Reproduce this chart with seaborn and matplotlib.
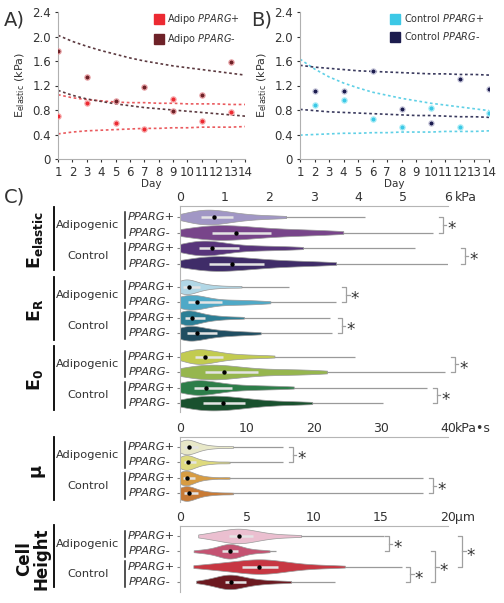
import numpy as np
import pandas as pd
import matplotlib
matplotlib.use("Agg")
import matplotlib.pyplot as plt
import matplotlib.transforms as mtransforms
from matplotlib.lines import Line2D
import seaborn as sns

# ---------------- panel A / B data (E_elastic vs day) ----------------
days_a = [1, 3, 5, 7, 9, 11, 13]
adipo_pos = [0.70, 0.92, 0.58, 0.49, 0.98, 0.62, 0.76]
adipo_neg = [1.76, 1.34, 0.94, 1.18, 0.79, 1.05, 1.58]

days_b = [2, 4, 6, 8, 10, 12, 14]
ctrl_pos = [0.88, 0.97, 0.66, 0.53, 0.83, 0.53, 0.75]
ctrl_neg = [1.11, 1.11, 1.43, 0.82, 0.58, 1.31, 1.14]

fit_days = list(range(1, 15))
adipo_pos_hi = [1.05, 1.00, 0.97, 0.95, 0.93, 0.92, 0.92, 0.91, 0.91, 0.90, 0.90, 0.90, 0.89, 0.89]
adipo_pos_lo = [0.41, 0.44, 0.46, 0.47, 0.48, 0.49, 0.50, 0.50, 0.51, 0.51, 0.52, 0.52, 0.52, 0.53]
adipo_neg_hi = [2.02, 1.92, 1.84, 1.77, 1.71, 1.65, 1.60, 1.56, 1.52, 1.49, 1.46, 1.43, 1.40, 1.37]
adipo_neg_lo = [1.12, 1.04, 0.98, 0.94, 0.90, 0.87, 0.84, 0.82, 0.80, 0.78, 0.76, 0.74, 0.72, 0.70]
ctrl_pos_hi = [1.63, 1.47, 1.34, 1.24, 1.16, 1.09, 1.04, 0.99, 0.95, 0.91, 0.88, 0.85, 0.82, 0.79]
ctrl_pos_lo = [0.39, 0.40, 0.41, 0.42, 0.42, 0.43, 0.43, 0.44, 0.44, 0.44, 0.45, 0.45, 0.45, 0.46]
ctrl_neg_hi = [1.53, 1.50, 1.48, 1.46, 1.44, 1.43, 1.42, 1.41, 1.40, 1.39, 1.39, 1.38, 1.38, 1.37]
ctrl_neg_lo = [0.81, 0.79, 0.77, 0.76, 0.75, 0.74, 0.73, 0.72, 0.71, 0.71, 0.70, 0.69, 0.69, 0.68]

# ---------------- panel C data (representative samples per violin) ----------------
# order in every measure: Adipogenic PPARG+, Adipogenic PPARG-, Control PPARG+, Control PPARG-
e_elastic = [
    [0.1, 0.22, 0.34, 0.44, 0.52, 0.6, 0.68, 0.77, 0.86, 0.96, 1.1, 1.26, 1.48, 1.8, 2.25],
    [0.15, 0.35, 0.52, 0.66, 0.78, 0.94, 1.1, 1.25, 1.42, 1.62, 1.88, 2.2, 2.55, 2.95, 3.45],
    [0.1, 0.2, 0.3, 0.38, 0.46, 0.55, 0.63, 0.71, 0.8, 0.94, 1.16, 1.48, 1.78, 2.15, 2.6],
    [0.14, 0.32, 0.48, 0.6, 0.7, 0.86, 1.02, 1.16, 1.32, 1.5, 1.74, 2.02, 2.35, 2.8, 3.3],
]
e_elastic_max = [4.14, 5.67, 5.26, 6.15]

e_r = [
    [0.02, 0.04, 0.05, 0.06, 0.08, 0.12, 0.16, 0.2, 0.25, 0.32, 0.4, 0.5, 0.65, 0.9, 1.3],
    [0.03, 0.07, 0.11, 0.16, 0.2, 0.26, 0.31, 0.37, 0.45, 0.58, 0.8, 1.08, 1.3, 1.55, 1.9],
    [0.02, 0.05, 0.08, 0.1, 0.12, 0.17, 0.22, 0.27, 0.33, 0.41, 0.5, 0.62, 0.78, 1.0, 1.35],
    [0.03, 0.06, 0.1, 0.14, 0.17, 0.24, 0.31, 0.39, 0.47, 0.58, 0.74, 0.9, 1.1, 1.35, 1.7],
]
e_r_max = [2.44, 3.5, 3.36, 3.4]

e_0 = [
    [0.1, 0.18, 0.26, 0.32, 0.36, 0.42, 0.49, 0.56, 0.64, 0.74, 0.88, 1.06, 1.3, 1.6, 2.0],
    [0.12, 0.26, 0.4, 0.52, 0.6, 0.72, 0.85, 0.98, 1.12, 1.3, 1.55, 1.95, 2.3, 2.7, 3.1],
    [0.08, 0.15, 0.22, 0.28, 0.33, 0.41, 0.49, 0.58, 0.68, 0.82, 1.02, 1.3, 1.6, 1.95, 2.4],
    [0.12, 0.25, 0.38, 0.48, 0.56, 0.7, 0.84, 0.97, 1.08, 1.2, 1.36, 1.56, 1.85, 2.25, 2.8],
]
e_0_max = [3.92, 5.93, 5.53, 4.55]

mu = [
    [0.1, 0.25, 0.4, 0.55, 0.7, 0.95, 1.15, 1.4, 1.7, 2.0, 2.4, 2.9, 3.8, 5.2, 7.5],
    [0.1, 0.2, 0.35, 0.5, 0.62, 0.85, 1.05, 1.25, 1.5, 1.8, 2.2, 2.7, 3.5, 4.8, 7.0],
    [0.08, 0.18, 0.3, 0.42, 0.55, 0.72, 0.9, 1.1, 1.35, 1.65, 2.0, 2.5, 3.3, 4.6, 7.0],
    [0.1, 0.22, 0.36, 0.5, 0.65, 0.85, 1.05, 1.3, 1.6, 1.95, 2.4, 3.0, 3.9, 5.3, 7.5],
]
mu_max = [15.4, 15.4, 36.3, 36.3]

cell_height = [
    [1.9, 2.5, 3.0, 3.5, 3.8, 4.0, 4.2, 4.4, 4.7, 5.0, 5.3, 5.6, 6.2, 7.0, 8.5],
    [1.4, 2.2, 2.7, 3.0, 3.3, 3.45, 3.6, 3.7, 3.85, 4.0, 4.2, 4.4, 4.8, 5.4, 6.3],
    [1.8, 2.8, 3.6, 4.3, 4.9, 5.3, 5.6, 5.9, 6.3, 6.8, 7.1, 7.5, 8.4, 9.6, 11.5],
    [1.7, 2.4, 2.9, 3.2, 3.5, 3.6, 3.7, 3.8, 4.0, 4.3, 4.7, 5.1, 5.7, 6.5, 7.8],
]
cell_height_max = [15.2, 7.2, 16.6, 11.6]

groups = ["Adipogenic", "Control"]
pparg = ["PPARG+", "PPARG-"]

pal_elastic = ["#9d8fcd", "#7d3a95", "#582a86", "#3b2272"]
pal_r = ["#a8dbef", "#3bb3db", "#1b88a6", "#15526d"]
pal_0 = ["#d3df3c", "#9dc73d", "#208a45", "#105a2b"]
pal_mu = ["#eeedc2", "#eee86e", "#f0a12a", "#e0791d"]
pal_h = ["#f3b7cf", "#d7406a", "#df1f2d", "#7a0b15"]

GREY = "#9a9a9a"
TXT = "#333333"

fig = plt.figure(figsize=(5.04, 6.03), dpi=100)
W, H = 504.0, 603.0


def fx(px):
    return px / W


# ---------------- panels A and B ----------------
def scatter_panel(ax, days, pos, neg, hi_lo, colors, halos, labels):
    (p_hi, p_lo, n_hi, n_lo) = hi_lo
    for ys, c in [(p_hi, colors[2]), (p_lo, colors[2]), (n_hi, colors[3]), (n_lo, colors[3])]:
        sns.lineplot(x=fit_days, y=ys, ax=ax, color=c, lw=1.2, linestyle=(0, (1.6, 1.6)))
    sns.scatterplot(x=days, y=pos, ax=ax, color=colors[0], s=14, edgecolor=halos[0], linewidth=0.9, zorder=3)
    sns.scatterplot(x=days, y=neg, ax=ax, color=colors[1], s=14, edgecolor=halos[1], linewidth=0.9, zorder=3)
    ax.set_xlim(1, 14)
    ax.set_ylim(0, 2.4)
    ax.set_xticks(range(1, 15))
    ax.set_yticks([0, 0.4, 0.8, 1.2, 1.6, 2.0, 2.4])
    ax.set_yticklabels(["0", "0.4", "0.8", "1.2", "1.6", "2.0", "2.4"])
    ax.tick_params(labelsize=8.5, colors=TXT, length=2, pad=3)
    for s in ["top", "right"]:
        ax.spines[s].set_visible(False)
    for s in ["left", "bottom"]:
        ax.spines[s].set_color("#b0b0b0")
    ax.set_xlabel("Day", fontsize=7.5, color=TXT, labelpad=0)
    ax.set_ylabel(r"E$_{\mathregular{elastic}}$ (kPa)", fontsize=8, color=TXT, labelpad=4)
    handles = [Line2D([], [], marker="s", ls="", color=colors[0], markersize=7),
               Line2D([], [], marker="s", ls="", color=colors[1], markersize=7)]
    ax.legend(handles, labels, loc="upper right", bbox_to_anchor=(1.02, 1.06), frameon=False,
              fontsize=7.0, handlelength=0.8, handletextpad=0.5, labelspacing=0.65,
              labelcolor=TXT)


axA = fig.add_axes([fx(58), 1 - 159 / H, 187 / W, 147 / H])
scatter_panel(axA, days_a, adipo_pos, adipo_neg,
              (adipo_pos_hi, adipo_pos_lo, adipo_neg_hi, adipo_neg_lo),
              ["#ec2a32", "#6e2228", "#ea5a5e", "#5c3a40"], ["#f7a8aa", "#e8a0a4"],
              [r"Adipo $\it{PPARG}$+", r"Adipo $\it{PPARG}$-"])

axB = fig.add_axes([fx(300), 1 - 159 / H, 189 / W, 147 / H])
scatter_panel(axB, days_b, ctrl_pos, ctrl_neg,
              (ctrl_pos_hi, ctrl_pos_lo, ctrl_neg_hi, ctrl_neg_lo),
              ["#3cc8e6", "#1c1c4e", "#5fd0e6", "#3a3a5e"], ["#a8ecf6", "#c8c8dc"],
              [r"Control $\it{PPARG}$+", r"Control $\it{PPARG}$-"])

fig.text(fx(4), 1 - 20 / H, "A)", fontsize=14, color=TXT, va="center")
fig.text(fx(251), 1 - 20 / H, "B)", fontsize=14, color=TXT, va="center")
fig.text(fx(4), 1 - 197 / H, "C)", fontsize=14, color=TXT, va="center")


# ---------------- panel C ----------------
def violin_block(ax, sets, maxes, palettes, starts, xmax, cut=0.4, from_min=False):
    rows, rec = [], []
    for block, (samples, mx, pal, r0) in enumerate(zip(sets, maxes, palettes, starts)):
        for i, vals in enumerate(samples):
            r = r0 + i
            key = f"{block}-{i}"
            rows.append((r, vals, mx[i], pal[i], key))
            for v in vals:
                rec.append({"row": r, "value": v, "key": key})
    df = pd.DataFrame(rec)
    palette = {k: c for (_, _, _, c, k) in rows}
    for (r, vals, mx, c, k) in rows:
        x0 = min(vals) if from_min else 0
        ax.hlines(r, x0, mx, color=GREY, lw=0.9, zorder=0.5)
    sns.violinplot(data=df, x="value", y="row", hue="key", palette=palette, orient="h",
                   native_scale=True, dodge=False, density_norm="width", cut=cut,
                   inner=None, linewidth=0.5, linecolor="#9a9a9a", width=0.95,
                   legend=False, ax=ax, bw_adjust=0.9)
    for (r, vals, mx, c, k) in rows:
        q1, med, q3 = np.percentile(vals, [25, 50, 75])
        ax.hlines(r, q1, q3, color="#e4e4e4", lw=1.8, zorder=3)
        ax.scatter([med], [r], s=10, color="black", zorder=4, linewidths=0)
    ax.set_xlim(0, xmax)


def style_c(ax, ticks, unit, ylim, yticks):
    ax.set_ylim(*ylim)
    ax.xaxis.tick_top()
    ax.set_xticks(ticks)
    ax.set_xticklabels([str(t) for t in ticks])
    ax.set_yticks(yticks)
    ax.tick_params(axis="x", labelsize=9, colors=TXT, length=0, pad=1.5)
    ax.tick_params(axis="y", length=2, color="#888888", labelleft=False)
    ax.set_xlabel("")
    ax.set_ylabel("")
    for s in ["right", "bottom"]:
        ax.spines[s].set_visible(False)
    for s in ["left", "top"]:
        ax.spines[s].set_color("#b5b5b5")
    ax.annotate(unit, xy=(ticks[-1], 1), xycoords=("data", "axes fraction"),
                xytext=(5, 1.5), textcoords="offset points", ha="left", va="bottom",
                fontsize=9, color=TXT)


def bracket(ax, x, r1, r2, pxu):
    d = 4.0 / pxu
    ax.plot([x - d, x, x, x - d], [r1, r1, r2, r2], color="#a0a0a0", lw=0.9, clip_on=False)
    ym = (r1 + r2) / 2
    ax.plot([x, x + 0.8 * d], [ym, ym], color="#a0a0a0", lw=0.9, clip_on=False)
    ax.text(x + 1.1 * d, ym + 0.28, "*", fontsize=12, ha="left", va="center", color=TXT,
            clip_on=False)


def left_labels(ax, titles, starts, bar_lo=0.65, bar_hi=0.45, title_size=12.5, title_x=35):
    blend = mtransforms.blended_transform_factory(fig.transFigure, ax.transData)
    for r0, title in zip(starts, titles):
        fig.add_artist(Line2D([fx(54), fx(54)], [r0 - bar_lo, r0 + 3 + bar_hi], transform=blend,
                              color="black", lw=1.3))
        ax.text(fx(title_x), r0 + 1.5, title, transform=blend, rotation=90, ha="center",
                va="center", fontsize=title_size, fontweight="bold", color="#111111",
                linespacing=0.95)
        for g, grp in enumerate(groups):
            a = r0 + 2 * g
            fig.add_artist(Line2D([fx(125), fx(125)], [a - 0.35, a + 1.35], transform=blend,
                                  color="#222222", lw=1.1))
            ax.text(fx(88), a + 0.5, grp, transform=blend, ha="center", va="center",
                    fontsize=8.2, color=TXT)
            for j, p in enumerate(pparg):
                ax.text(fx(127.5 + 1.5 * j), a + j, p, transform=blend, ha="left", va="center",
                        fontsize=8.2, style="italic", color=TXT)


# axes 1: E_elastic, E_R, E_0 (kPa)
ax1 = fig.add_axes([fx(180), 1 - 412 / H, 268 / W, 206 / H])
starts1 = [0, 4.5, 9]
violin_block(ax1, [e_elastic, e_r, e_0], [e_elastic_max, e_r_max, e_0_max],
             [pal_elastic, pal_r, pal_0], starts1, 6)
style_c(ax1, [0, 1, 2, 3, 4, 5, 6], "kPa", (12.58, -0.71),
        [0, 1, 2, 3, 4.5, 5.5, 6.5, 7.5, 9, 10, 11, 12])
px1 = 268 / 6
for r0, mx in zip(starts1, [e_elastic_max, e_r_max, e_0_max]):
    for g in range(2):
        top = max(mx[2 * g], mx[2 * g + 1])
        bracket(ax1, top + 10 / px1, r0 + 2 * g, r0 + 2 * g + 1, px1)
left_labels(ax1, [r"$\mathbf{E_{elastic}}$", r"$\mathbf{E_{R}}$", r"$\mathbf{E_{0}}$"], starts1)

# axes 2: mu (kPa.s)
ax2 = fig.add_axes([fx(180), 1 - 502 / H, 268 / W, 65 / H])
violin_block(ax2, [mu], [mu_max], [pal_mu], [0], 40)
style_c(ax2, [0, 10, 20, 30, 40], "kPa\u2022s", (3.55, -0.645), [0, 1, 2, 3])
px2 = 268 / 40
for g in range(2):
    top = max(mu_max[2 * g], mu_max[2 * g + 1])
    bracket(ax2, top + 10 / px2, 2 * g, 2 * g + 1, px2)
left_labels(ax2, ["\u03bc"], [0], title_size=13)

# axes 3: cell height (um)
ax3 = fig.add_axes([fx(180), 1 - 592 / H, 268 / W, 66 / H])
violin_block(ax3, [cell_height], [cell_height_max], [pal_h], [0], 20, cut=0.6, from_min=True)
style_c(ax3, [0, 5, 10, 15, 20], "\u00b5m", (3.66, -0.65), [0, 1, 2, 3])
px3 = 268 / 20
b_adipo = max(cell_height_max[0], cell_height_max[1]) + 5 / px3
b_ctrl = max(cell_height_max[2], cell_height_max[3]) + 8 / px3
bracket(ax3, b_adipo, 0, 1, px3)
bracket(ax3, b_ctrl, 2, 3, px3)
bracket(ax3, b_ctrl + 25 / px3, 1, 3, px3)
bracket(ax3, b_ctrl + 52 / px3, 0, 2, px3)
left_labels(ax3, ["Cell\nHeight"], [0], bar_lo=0.7, bar_hi=0.35, title_size=12, title_x=33)

fig.savefig("out.png", dpi=100)
